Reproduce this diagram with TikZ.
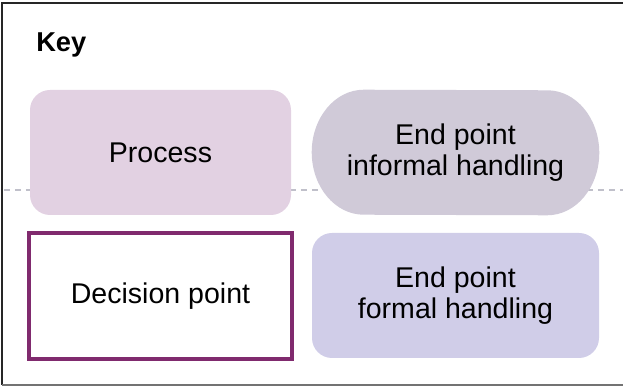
\documentclass[tikz,border=0pt]{standalone}
\usepackage{fontspec}
\setmainfont{Liberation Sans}
\usepackage{tikz}
\definecolor{keyprocess}{RGB}{226,209,226}
\definecolor{keyinformal}{RGB}{208,202,216}
\definecolor{keyformal}{RGB}{208,205,232}
\definecolor{keydecision}{RGB}{128,42,110}
\definecolor{keydash}{RGB}{192,192,202}
\usetikzlibrary{
  calc,
  backgrounds
}

\begin{document}
\begin{tikzpicture}[
    keytext/.style={align=center, font=\fontsize{20.3}{22}\selectfont, inner sep=0pt},
    keybox/.style={keytext, minimum width=7.175cm, minimum height=3.125cm}
  ]
  \useasboundingbox (0,0) rectangle (15.575,-9.675);
  \clip (0,0) rectangle (15.575,-9.675);

  %% --- Frame ---
  \draw[line width=1.4pt, black!85] (15.8,-0.075) -- (0.05,-0.075) -- (0.05,-9.625);
  \draw[line width=1pt, black!55] (0.05,-9.625) -- (15.8,-9.625);

  \node[anchor=base west, inner sep=0pt, font=\fontsize{19.4}{22}\selectfont\bfseries] (key) at (0.9,-1.3) {Key};

  %% --- Top row ---
  \node[keybox, fill=keyprocess, rounded corners=0.5cm, minimum width=6.525cm] (process) at (4.0125,-3.8125) {Process};

  \node[keybox] (informal) at (11.3875,-3.8125) {End point\\informal handling};

  %% --- Bottom row ---
  \node[keytext, draw=keydecision, line width=0.1cm, fill=white, minimum width=6.575cm, minimum height=3.15cm] (decision) at (4.0125,-7.4) {Decision point};

  \node[keybox, fill=keyformal, rounded corners=0.5cm] (formal) at (11.3875,-7.3875) {End point\\formal handling};

  %% --- Divider and the stadium behind the text ---
  \begin{scope}[on background layer]
    \draw[keydash, line width=0.9pt, dash pattern=on 0.15cm off 0.125cm] (0.1,-4.75) -- (15.575,-4.75);
    \fill[keyinformal] ($(informal.north west)+(1.3,0)$)
      arc[start angle=90, end angle=270, x radius=1.3cm, y radius=1.5625cm]
      -- ($(informal.south east)-(1.3,0)$)
      arc[start angle=-90, end angle=90, x radius=1.3cm, y radius=1.5625cm]
      -- cycle;
  \end{scope}
\end{tikzpicture}
\end{document}
